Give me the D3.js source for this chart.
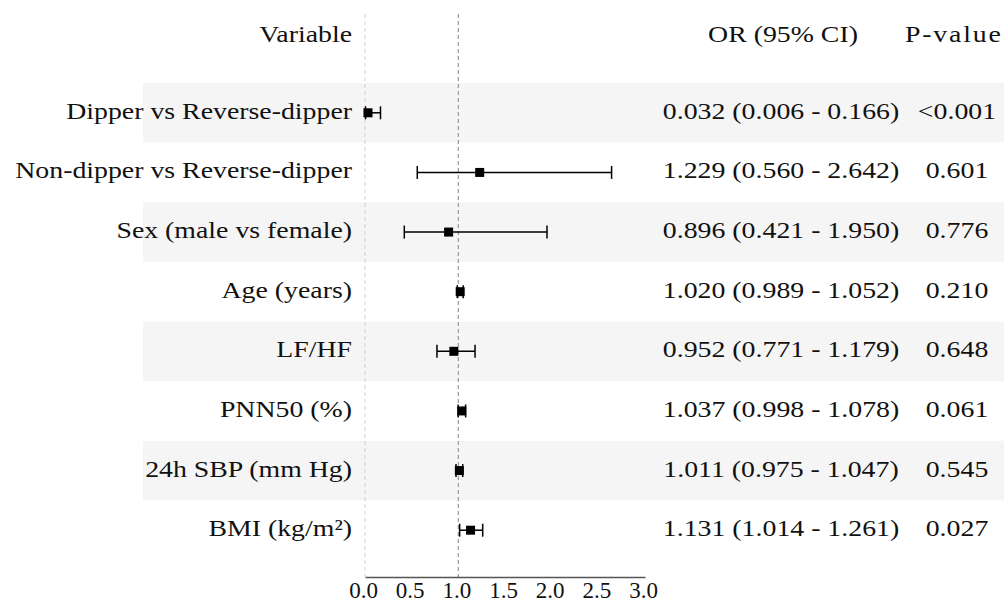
<!DOCTYPE html>
<html><head><meta charset="utf-8">
<script src="https://cdn.jsdelivr.net/npm/d3@7/dist/d3.min.js"></script>
<style>body{margin:0;background:#fff}svg{display:block}text{font-family:"Liberation Serif","Times New Roman",serif;fill:#111}</style>
</head><body><svg id="c" width="1004" height="604"></svg>
<script>
const variables = ["Dipper vs Reverse-dipper","Non-dipper vs Reverse-dipper","Sex (male vs female)","Age (years)","LF/HF","PNN50 (%)","24h SBP (mm Hg)","BMI (kg/m²)"];
const orValues = [0.032,1.229,0.896,1.020,0.952,1.037,1.011,1.131];
const ciLower = [0.006,0.560,0.421,0.989,0.771,0.998,0.975,1.014];
const ciUpper = [0.166,2.642,1.950,1.052,1.179,1.078,1.047,1.261];
const pValues = ["<0.001","0.601","0.776","0.210","0.648","0.061","0.545","0.027"];
const xTicks = [0,0.5,1,1.5,2,2.5,3];
const headers = ["Variable","OR (95% CI)","P-value"];

const svg = d3.select("#c");
const fs = 23, sx = 1.21;
const x = d3.scaleLinear().domain([0,3]).range([365,645]);
const y = d3.scaleBand().domain(variables).range([83,560]);
const fmt = d3.format(".3f");

function stext(parent, px, py, anchor, str){
  const g = parent.append("g").attr("transform",`translate(${px},${py}) scale(${sx},1)`);
  return g.append("text").attr("text-anchor",anchor).attr("font-size",fs).text(str);
}

// bands
svg.selectAll("rect.band").data(variables.filter((d,i)=>i%2===0)).enter().append("rect")
  .attr("x",143).attr("width",1004-143).attr("y",d=>y(d)).attr("height",y.bandwidth()).attr("fill","#f5f5f5");

// reference lines
svg.append("line").attr("x1",x(0)).attr("x2",x(0)).attr("y1",14).attr("y2",577)
  .attr("stroke","#d0d0d0").attr("stroke-width",1).attr("stroke-dasharray","4,3");
svg.append("line").attr("x1",x(1)).attr("x2",x(1)).attr("y1",14).attr("y2",577)
  .attr("stroke","#999").attr("stroke-width",1.2).attr("stroke-dasharray","4,3");

// headers
const hy = 42;
stext(svg, 352, hy, "end", headers[0]);
stext(svg, 783, hy, "middle", headers[1]);
stext(svg, 905, hy, "start", headers[2]).attr("letter-spacing",1.5);

variables.forEach((d,i)=>{
  const cy = y(d)+y.bandwidth()/2;
  const g = svg.append("g").attr("transform",`translate(0,${cy})`);
  stext(g, 352, 6, "end", d);
  g.append("line").attr("x1",x(ciLower[i])).attr("x2",x(ciUpper[i])).attr("stroke","#000").attr("stroke-width",1.5);
  [ciLower[i],ciUpper[i]].forEach(v=>{
    g.append("line").attr("x1",x(v)).attr("x2",x(v)).attr("y1",-6.5).attr("y2",6.5).attr("stroke","#000").attr("stroke-width",1.5);
  });
  g.append("rect").attr("x",x(orValues[i])-4.5).attr("y",-4.5).attr("width",9).attr("height",9).attr("fill","#000");
  stext(g, 781, 6, "middle", `${fmt(orValues[i])} (${fmt(ciLower[i])} - ${fmt(ciUpper[i])})`);
  stext(g, 957, 6, "middle", pValues[i]);
});

// axis
const ax = svg.append("g").attr("transform","translate(0,577)")
  .call(d3.axisBottom(x).tickValues(xTicks).tickFormat(d3.format(".1f")).tickSize(0).tickPadding(5));
ax.select(".domain").attr("stroke","#555").attr("stroke-width",1.3);
ax.selectAll("text").attr("font-size",23).attr("font-family","Liberation Serif").attr("fill","#111").attr("dx",-2);
</script></body></html>
